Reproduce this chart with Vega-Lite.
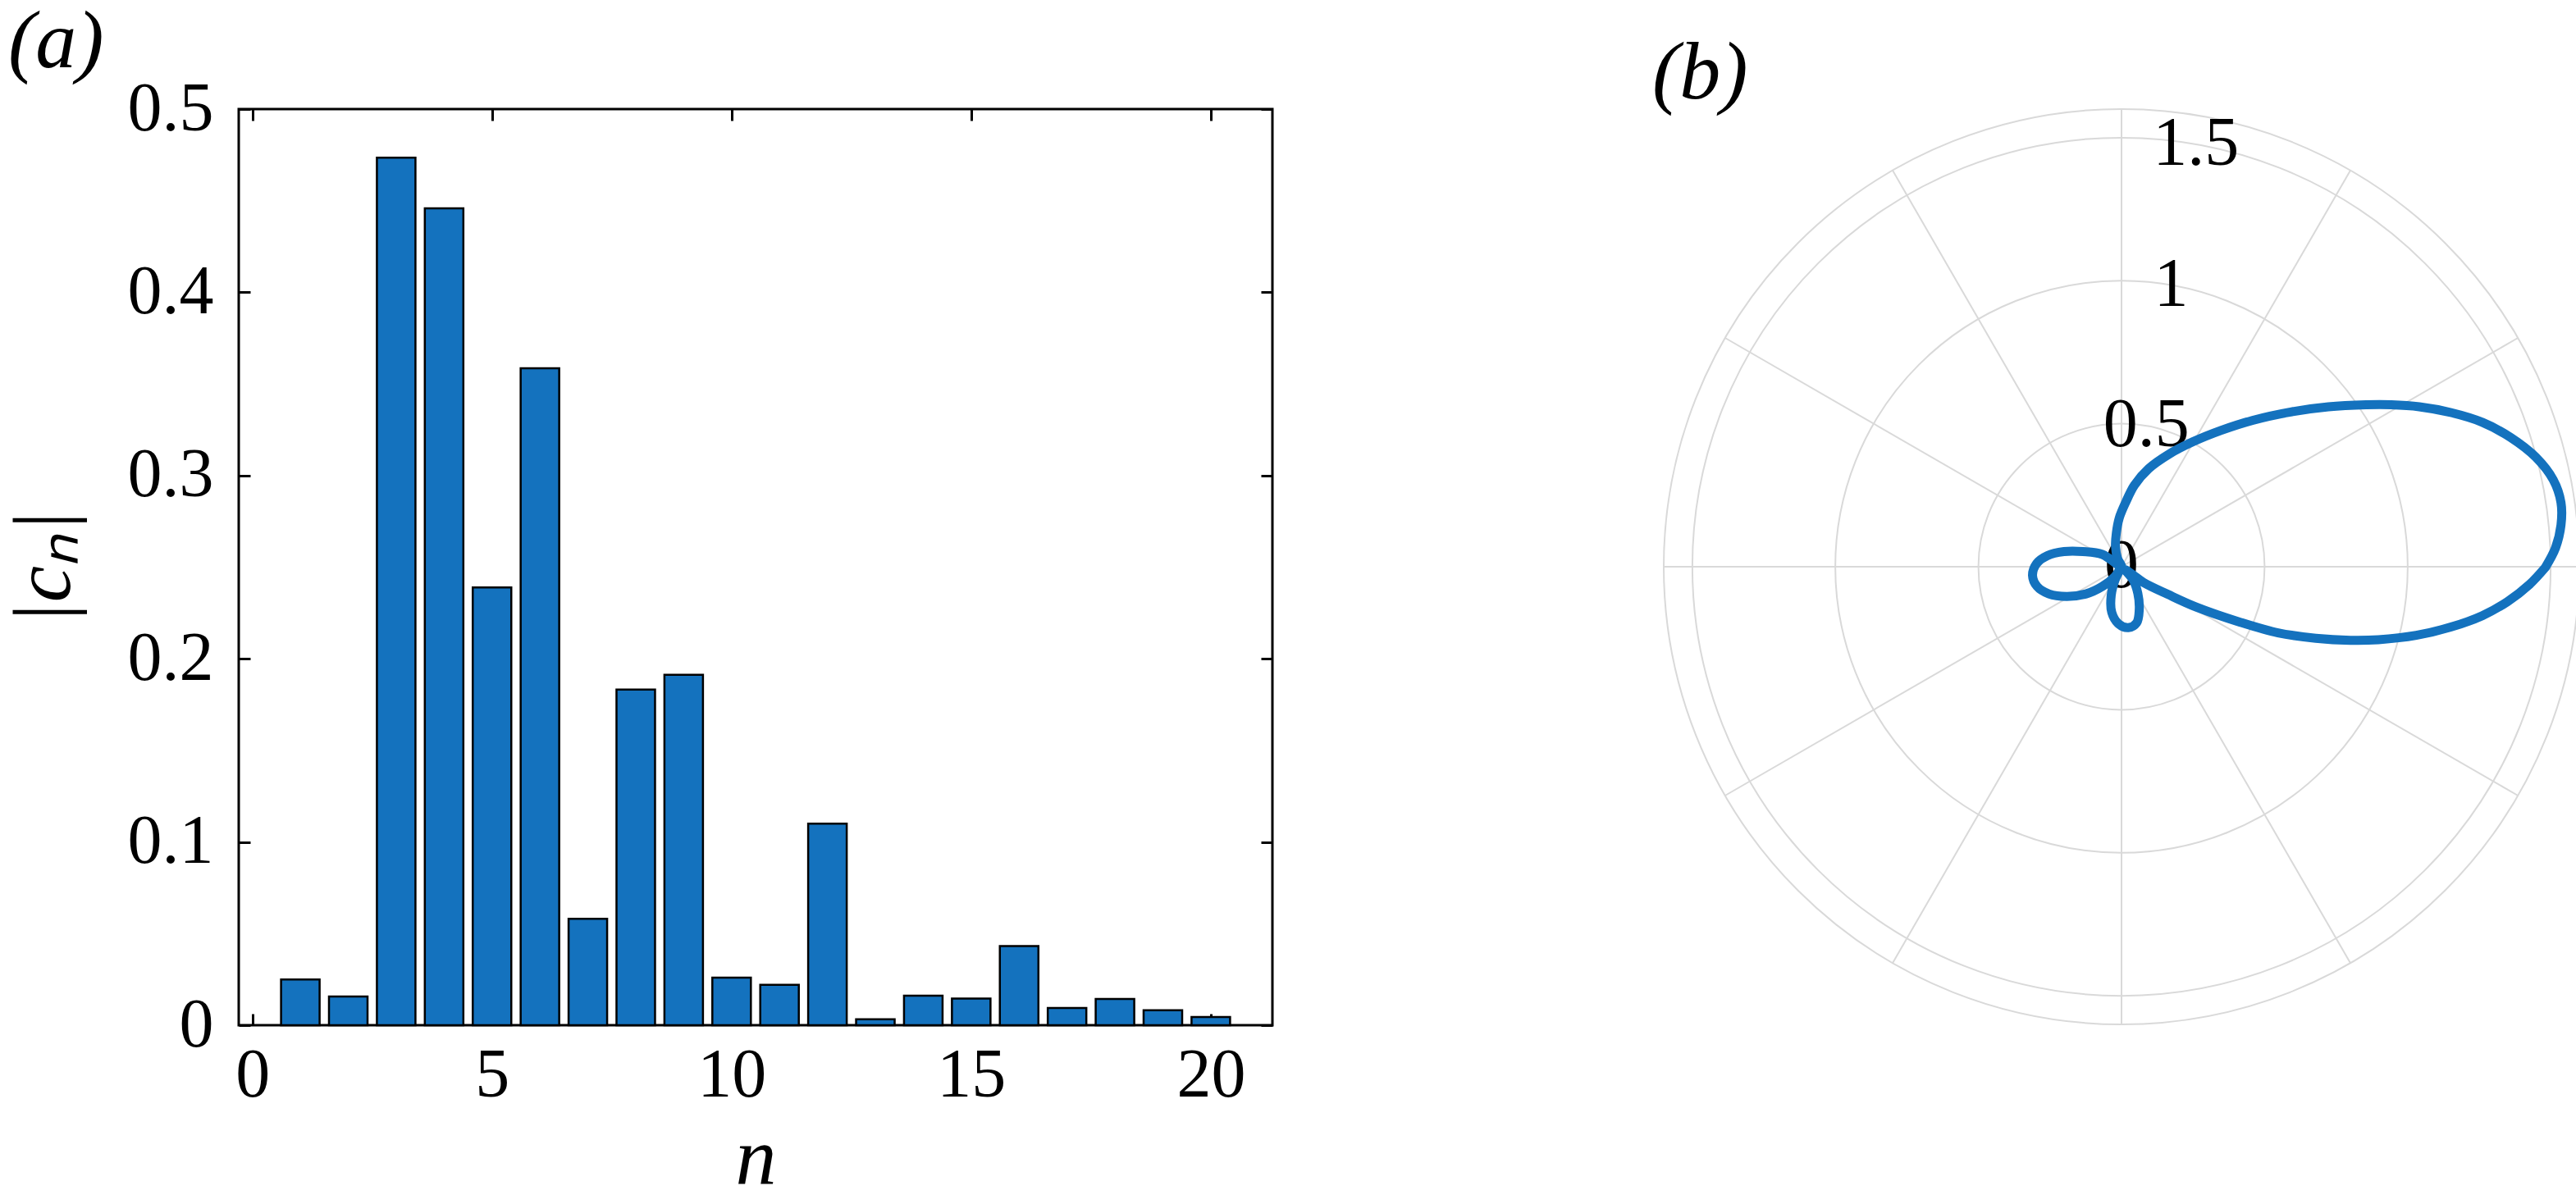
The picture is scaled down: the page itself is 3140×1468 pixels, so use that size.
{
  "$schema": "https://vega.github.io/schema/vega-lite/v6.json",
  "autosize": {"type": "pad"},
  "padding": {"left": 2, "top": 0, "right": 0, "bottom": 0},
  "background": "white",
  "config": {
    "font": "Liberation Serif",
    "view": {"stroke": null},
    "axis": {
      "labelFont": "Liberation Serif",
      "labelFontSize": 84,
      "labelColor": "black",
      "titleFont": "Liberation Serif",
      "titleFontSize": 100,
      "titleFontStyle": "italic",
      "titleFontWeight": "normal",
      "titleColor": "black",
      "grid": false,
      "domain": false,
      "tickColor": "black",
      "tickWidth": 3,
      "tickSize": -14,
      "labelFlush": false,
      "labelOverlap": false,
      "labelBound": false
    },
    "title": {
      "font": "Liberation Serif",
      "fontSize": 100,
      "fontStyle": "italic",
      "fontWeight": "normal",
      "color": "black",
      "anchor": "start",
      "frame": "group",
      "baseline": "bottom",
      "offset": -12
    }
  },
  "spacing": 460,
  "hconcat": [
    {
      "width": 1260,
      "height": 1117,
      "title": {"text": "(a)", "dx": -281},
      "view": {"stroke": "black", "strokeWidth": 3},
      "data": {
        "values": [
          {"n": 1, "c": 0.025},
          {"n": 2, "c": 0.0157},
          {"n": 3, "c": 0.4735},
          {"n": 4, "c": 0.4458},
          {"n": 5, "c": 0.2389},
          {"n": 6, "c": 0.3585},
          {"n": 7, "c": 0.0581},
          {"n": 8, "c": 0.1832},
          {"n": 9, "c": 0.1913},
          {"n": 10, "c": 0.026},
          {"n": 11, "c": 0.022},
          {"n": 12, "c": 0.11},
          {"n": 13, "c": 0.0032},
          {"n": 14, "c": 0.0161},
          {"n": 15, "c": 0.0146},
          {"n": 16, "c": 0.0432},
          {"n": 17, "c": 0.0094},
          {"n": 18, "c": 0.0143},
          {"n": 19, "c": 0.0082},
          {"n": 20, "c": 0.0045}
        ]
      },
      "layer": [
        {
          "mark": {"type": "bar", "orient": "vertical", "width": 47, "fill": "#1472be", "stroke": "black", "strokeWidth": 2.5},
          "encoding": {
            "x": {
              "field": "n",
              "type": "quantitative",
              "scale": {"domain": [-0.2, 21.2], "nice": false, "zero": false},
              "axis": {"orient": "bottom", "values": [0, 5, 10, 15, 20], "labelPadding": 34, "title": "n", "titlePadding": 10}
            },
            "y": {
              "field": "c",
              "type": "quantitative",
              "stack": null,
              "scale": {"domain": [0, 0.5], "nice": false},
              "axis": {"orient": "left", "values": [0, 0.1, 0.2, 0.3, 0.4, 0.5], "format": "~g", "labelPadding": 45, "title": "|cₙ|", "titlePadding": 50}
            }
          }
        },
        {
          "mark": {"type": "point", "opacity": 0},
          "encoding": {
            "x": {
              "field": "n",
              "type": "quantitative",
              "scale": {"domain": [-0.2, 21.2], "nice": false, "zero": false},
              "axis": {"orient": "top", "values": [0, 5, 10, 15, 20], "labels": false, "title": null}
            },
            "y": {
              "field": "c",
              "type": "quantitative",
              "scale": {"domain": [0, 0.5], "nice": false},
              "axis": {"orient": "right", "values": [0, 0.1, 0.2, 0.3, 0.4, 0.5], "labels": false, "title": null}
            }
          }
        }
      ],
      "resolve": {"axis": {"x": "independent", "y": "independent"}}
    },
    {
      "width": 1116,
      "height": 1116,
      "title": {"text": "(b)", "dx": -14},
      "layer": [
        {
          "data": {"values": [{"r": 0.5}, {"r": 1}, {"r": 1.5}, {"r": 1.6}]},
          "mark": {"type": "arc", "theta": 0, "theta2": 6.2832, "fill": null, "stroke": "#d9d9d9", "strokeWidth": 2},
          "encoding": {
            "radius": {"field": "r", "type": "quantitative", "stack": null, "scale": {"type": "linear", "domain": [0, 1.6], "range": [0, 558], "zero": true}}
          }
        },
        {
          "data": {
            "values": [
              {"x": -1.6, "y": 0, "x2": 1.6, "y2": 0},
              {"x": -1.3856, "y": -0.8, "x2": 1.3856, "y2": 0.8},
              {"x": -0.8, "y": -1.3856, "x2": 0.8, "y2": 1.3856},
              {"x": 0, "y": -1.6, "x2": 0, "y2": 1.6},
              {"x": 0.8, "y": -1.3856, "x2": -0.8, "y2": 1.3856},
              {"x": 1.3856, "y": -0.8, "x2": -1.3856, "y2": 0.8}
            ]
          },
          "mark": {"type": "rule", "stroke": "#d9d9d9", "strokeWidth": 2},
          "encoding": {
            "x": {"field": "x", "type": "quantitative", "scale": {"domain": [-1.6, 1.6], "nice": false, "zero": false}, "axis": null},
            "y": {"field": "y", "type": "quantitative", "scale": {"domain": [-1.6, 1.6], "nice": false, "zero": false}, "axis": null},
            "x2": {"field": "x2"},
            "y2": {"field": "y2"}
          }
        },
        {
          "data": {
            "values": [
              {"x": 0, "y": 0, "label": "0"},
              {"x": 0.0868, "y": 0.4924, "label": "0.5"},
              {"x": 0.1736, "y": 0.9848, "label": "1"},
              {"x": 0.2605, "y": 1.4772, "label": "1.5"}
            ]
          },
          "mark": {"type": "text", "font": "Liberation Serif", "fontSize": 84, "align": "center", "baseline": "middle", "color": "black"},
          "encoding": {
            "x": {"field": "x", "type": "quantitative", "scale": {"domain": [-1.6, 1.6], "nice": false, "zero": false}, "axis": null},
            "y": {"field": "y", "type": "quantitative", "scale": {"domain": [-1.6, 1.6], "nice": false, "zero": false}, "axis": null},
            "text": {"field": "label"}
          }
        },
        {
          "data": {
            "values": [
              {"i": 0, "x": 1.481, "y": -0.003},
              {"i": 1, "x": 1.517, "y": 0.066},
              {"i": 2, "x": 1.536, "y": 0.145},
              {"i": 3, "x": 1.536, "y": 0.225},
              {"i": 4, "x": 1.509, "y": 0.304},
              {"i": 5, "x": 1.448, "y": 0.383},
              {"i": 6, "x": 1.36, "y": 0.452},
              {"i": 7, "x": 1.261, "y": 0.505},
              {"i": 8, "x": 1.151, "y": 0.539},
              {"i": 9, "x": 1.041, "y": 0.559},
              {"i": 10, "x": 0.943, "y": 0.566},
              {"i": 11, "x": 0.855, "y": 0.566},
              {"i": 12, "x": 0.723, "y": 0.559},
              {"i": 13, "x": 0.591, "y": 0.541},
              {"i": 14, "x": 0.459, "y": 0.512},
              {"i": 15, "x": 0.349, "y": 0.477},
              {"i": 16, "x": 0.25, "y": 0.437},
              {"i": 17, "x": 0.165, "y": 0.393},
              {"i": 18, "x": 0.095, "y": 0.343},
              {"i": 19, "x": 0.045, "y": 0.285},
              {"i": 20, "x": 0.015, "y": 0.226},
              {"i": 21, "x": -0.008, "y": 0.17},
              {"i": 22, "x": -0.018, "y": 0.118},
              {"i": 23, "x": -0.021, "y": 0.072},
              {"i": 24, "x": -0.014, "y": 0.03},
              {"i": 25, "x": 0, "y": 0},
              {"i": 26, "x": -0.067, "y": 0.043},
              {"i": 27, "x": -0.134, "y": 0.053},
              {"i": 28, "x": -0.201, "y": 0.053},
              {"i": 29, "x": -0.259, "y": 0.039},
              {"i": 30, "x": -0.297, "y": 0.011},
              {"i": 31, "x": -0.311, "y": -0.031},
              {"i": 32, "x": -0.295, "y": -0.069},
              {"i": 33, "x": -0.254, "y": -0.095},
              {"i": 34, "x": -0.192, "y": -0.104},
              {"i": 35, "x": -0.124, "y": -0.095},
              {"i": 36, "x": -0.067, "y": -0.069},
              {"i": 37, "x": -0.024, "y": -0.035},
              {"i": 38, "x": 0, "y": 0},
              {"i": 39, "x": -0.022, "y": -0.045},
              {"i": 40, "x": -0.036, "y": -0.1},
              {"i": 41, "x": -0.034, "y": -0.16},
              {"i": 42, "x": -0.01, "y": -0.2},
              {"i": 43, "x": 0.024, "y": -0.213},
              {"i": 44, "x": 0.053, "y": -0.196},
              {"i": 45, "x": 0.062, "y": -0.15},
              {"i": 46, "x": 0.057, "y": -0.093},
              {"i": 47, "x": 0.04, "y": -0.045},
              {"i": 48, "x": 0.012, "y": -0.01},
              {"i": 49, "x": 0.045, "y": -0.032},
              {"i": 50, "x": 0.077, "y": -0.055},
              {"i": 51, "x": 0.163, "y": -0.097},
              {"i": 52, "x": 0.259, "y": -0.14},
              {"i": 53, "x": 0.415, "y": -0.194},
              {"i": 54, "x": 0.547, "y": -0.231},
              {"i": 55, "x": 0.679, "y": -0.25},
              {"i": 56, "x": 0.8, "y": -0.257},
              {"i": 57, "x": 0.898, "y": -0.255},
              {"i": 58, "x": 1.03, "y": -0.24},
              {"i": 59, "x": 1.151, "y": -0.211},
              {"i": 60, "x": 1.261, "y": -0.171},
              {"i": 61, "x": 1.349, "y": -0.122},
              {"i": 62, "x": 1.426, "y": -0.062},
              {"i": 63, "x": 1.481, "y": -0.003}
            ]
          },
          "mark": {"type": "line", "stroke": "#1472be", "strokeWidth": 11, "interpolate": "catmull-rom", "strokeCap": "round", "strokeJoin": "round"},
          "encoding": {
            "x": {"field": "x", "type": "quantitative", "scale": {"domain": [-1.6, 1.6], "nice": false, "zero": false}, "axis": null},
            "y": {"field": "y", "type": "quantitative", "scale": {"domain": [-1.6, 1.6], "nice": false, "zero": false}, "axis": null},
            "order": {"field": "i", "type": "quantitative"}
          }
        }
      ]
    }
  ]
}
